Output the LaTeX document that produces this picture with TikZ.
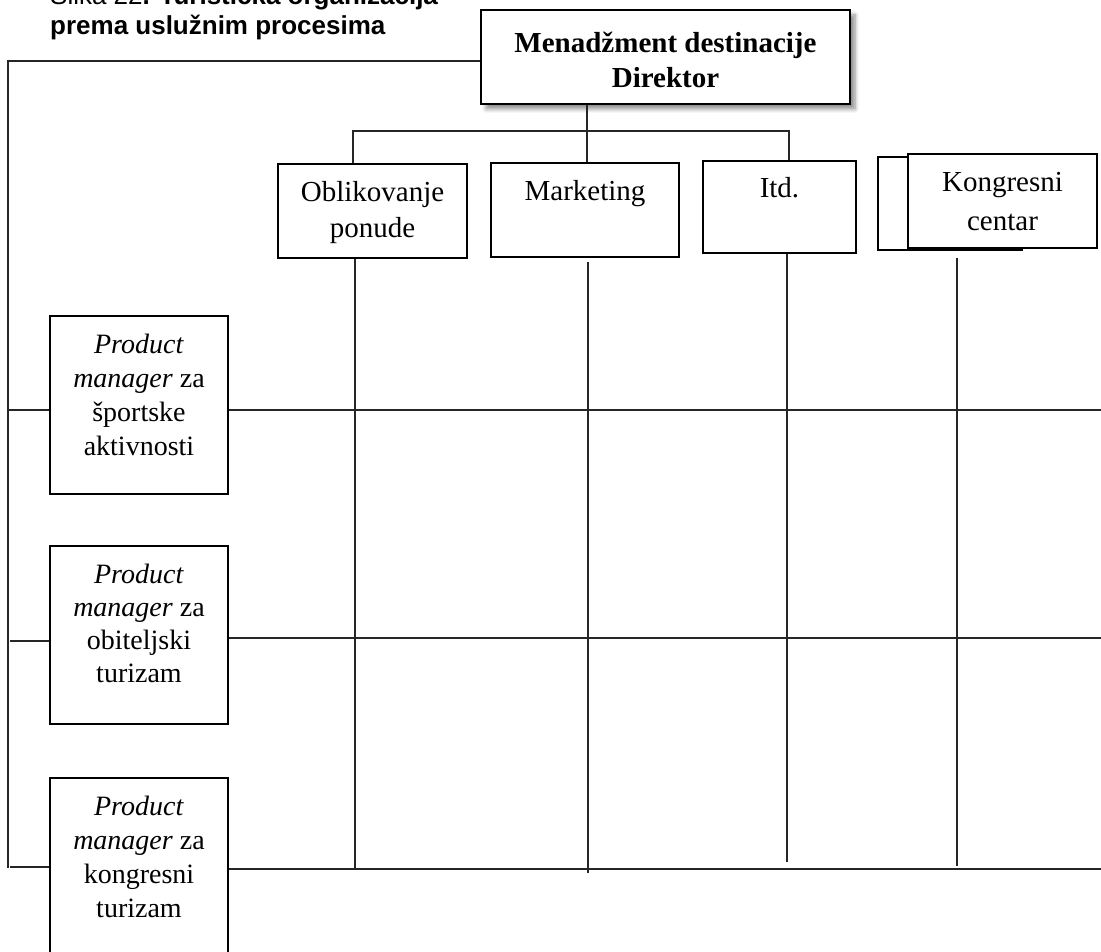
\documentclass[tikz,border=0pt]{standalone}
\usepackage{fontspec}
\setmainfont{Liberation Serif}
\setsansfont{Liberation Sans}
\usetikzlibrary{shadows.blur}
\begin{document}
\begin{tikzpicture}[x=1pt,y=-1pt,
  boxa/.style={draw=black, fill=white, line width=1.7pt, inner sep=0pt},
  conn/.style={draw=black!85, line width=1.4pt},
  txt/.style={align=center, anchor=base, inner sep=0pt},
  topfont/.style={font=\fontsize{29}{36}\selectfont},
  pmfont/.style={font=\fontsize{28}{34}\selectfont}]
\useasboundingbox (0,0) rectangle (1101,952);
\clip (0,0) rectangle (1101,952);

% caption
\node[anchor=base west, align=left, inner sep=0pt, font=\sffamily\fontsize{26}{30}\selectfont] (cap) at (50,35)
  {Slika 22\textbf{. Turistička organizacija}\\\textbf{prema uslužnim procesima}};

% boxes
\node[boxa, minimum width=369pt, minimum height=94pt,
  blur shadow={shadow xshift=5pt, shadow yshift=-5pt, shadow blur steps=6, shadow blur radius=4pt, shadow opacity=45}] (dir) at (665.5,57) {};
\node[boxa, minimum width=189pt, minimum height=94pt] (obl) at (372.5,211) {};
\node[boxa, minimum width=188pt, minimum height=94pt] (mkt) at (585,210) {};
\node[boxa, minimum width=153pt, minimum height=92pt] (itd) at (779.5,207) {};
\node[boxa, minimum width=144pt, minimum height=93pt] (kgb) at (950,203.5) {};
\node[boxa, minimum width=189pt, minimum height=94pt] (kgf) at (1002.5,201) {};
\node[boxa, minimum width=178pt, minimum height=178pt] (p1) at (139,405) {};
\node[boxa, minimum width=178pt, minimum height=178pt] (p2) at (139,635) {};
\node[boxa, minimum width=178pt, minimum height=178pt] (p3) at (139,867) {};

% texts (anchor = baseline of last line)
\node[txt, font=\bfseries\fontsize{29}{35}\selectfont] (dirt) at (665.5,88) {Menadžment destinacije\\Direktor};
\node[txt, topfont] (oblt) at (372.5,238) {Oblikovanje\\ponude};
\node[txt, topfont] (mktt) at (585,201) {Marketing};
\node[txt, topfont] (itdt) at (779.5,198) {Itd.};
\node[txt, font=\fontsize{29}{39}\selectfont] (kgt) at (1002.5,231) {Kongresni\\centar};
\node[txt, pmfont] (p1t) at (139,455) {\textit{Product}\\\textit{manager} za\\športske\\aktivnosti};
\node[txt, font=\fontsize{28}{33}\selectfont] (p2t) at (139,682) {\textit{Product}\\\textit{manager} za\\obiteljski\\turizam};
\node[txt, pmfont] (p3t) at (139,917) {\textit{Product}\\\textit{manager} za\\kongresni\\turizam};

% coordinates
\coordinate (sT) at (8,61);
\coordinate (sB) at (8,868);
\coordinate (s1) at (8,410);
\coordinate (s2) at (10,641);
\coordinate (s3) at (10,867);
\coordinate (r1) at (1101,410);
\coordinate (r2) at (1101,638);
\coordinate (r3) at (1101,869);
\coordinate (hl) at (353,131);
\coordinate (hm) at (587,131);
\coordinate (hr) at (789,131);
\coordinate (v1) at (355,869);
\coordinate (v2t) at (588,262);
\coordinate (v2) at (588,873);
\coordinate (v3) at (787,862);
\coordinate (v4t) at (957,258);
\coordinate (v4) at (957,866);

% connectors
\draw[conn] (sT -| dir.west) -- (sT) -- (sB);
\draw[conn] (s1) -- (s1 -| p1.west);
\draw[conn] (s2) -- (s2 -| p2.west);
\draw[conn] (s3) -- (s3 -| p3.west);
\draw[conn] (p1.east |- r1) -- (r1);
\draw[conn] (p2.east |- r2) -- (r2);
\draw[conn] (p3.east |- r3) -- (r3);
\draw[conn] (dir.south -| hm) -- (hm |- mkt.north);
\draw[conn] (obl.north -| hl) -- (hl) -- (hr) -- (hr |- itd.north);
\draw[conn] (v1 |- obl.south) -- (v1);
\draw[conn] (v2t) -- (v2);
\draw[conn] (v3 |- itd.south) -- (v3);
\draw[conn] (v4t) -- (v4);
\end{tikzpicture}
\end{document}
